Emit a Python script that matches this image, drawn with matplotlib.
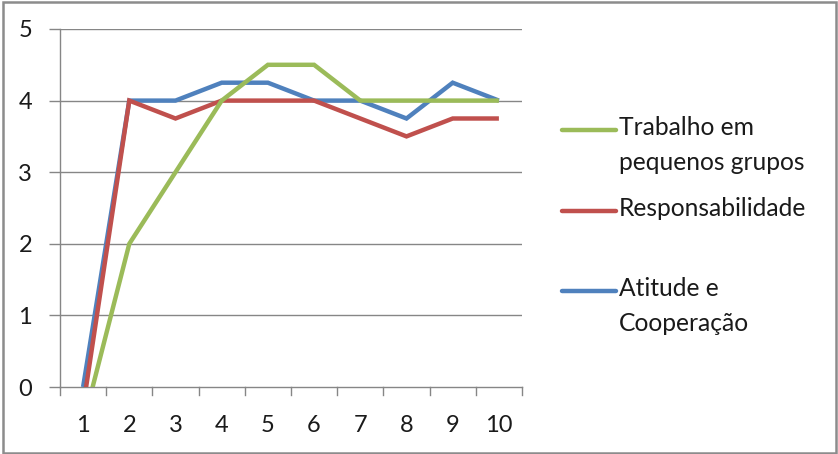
import matplotlib.pyplot as plt
from matplotlib.lines import Line2D
from matplotlib.patches import Rectangle

# data
categories = [1, 2, 3, 4, 5, 6, 7, 8, 9, 10]
atitude = [0, 4, 4, 4.25, 4.25, 4, 4, 3.75, 4.25, 4]
responsabilidade = [-0.28, 4, 3.75, 4, 4, 4, 3.75, 3.5, 3.75, 3.75]
trabalho = [-0.52, 2, 3, 4, 4.5, 4.5, 4, 4, 4, 4]
y_ticks = [0, 1, 2, 3, 4, 5]

series_labels = ["Trabalho em\npequenos grupos", "Responsabilidade", "Atitude e\nCooperação"]
GREEN = "#9BBB59"
RED = "#C0504D"
BLUE = "#4F81BD"
GRID = "#868686"
TXT = "#1a1a1a"

plt.rcParams['font.family'] = ['Lato', 'DejaVu Sans']

W, H = 838, 454
fig = plt.figure(figsize=(W / 100, H / 100), dpi=100)

# plot area in pixels: left 60, right 522, top 29, bottom 387
ax = fig.add_axes([60 / W, 1 - 387 / H, (522 - 60) / W, (387 - 29) / H])

x = list(range(len(categories)))
ax.plot(x, atitude, color=BLUE, lw=3.2, solid_joinstyle='miter', solid_capstyle='butt', zorder=3)
ax.plot(x, responsabilidade, color=RED, lw=3.2, solid_joinstyle='miter', solid_capstyle='butt', zorder=4)
ax.plot(x, trabalho, color=GREEN, lw=3.2, solid_joinstyle='miter', solid_capstyle='butt', zorder=5)

ax.set_xlim(-0.5, len(categories) - 0.5)
ax.set_ylim(0, 5)

ax.set_yticks(y_ticks)
ax.set_yticklabels([str(t) for t in y_ticks], fontsize=17, color=TXT)
ax.set_xticks(x)
ax.set_xticklabels([str(c) for c in categories], fontsize=17, color=TXT)
ax.tick_params(axis='x', length=0, pad=20)
ax.tick_params(axis='y', length=8, color=GRID, pad=12, width=1)

# ticks between categories on the x axis
for b in [i - 0.5 for i in range(len(categories) + 1)]:
    ax.plot([b, b], [0, -0.11], color=GRID, lw=1, clip_on=False, zorder=2)

for t in y_ticks[1:]:
    ax.axhline(t, color=GRID, lw=1, zorder=1)

for s in ['top', 'right']:
    ax.spines[s].set_visible(False)
for s in ['left', 'bottom']:
    ax.spines[s].set_color(GRID)
    ax.spines[s].set_linewidth(1)

# legend drawn by hand so the line sits next to the first text line
leg_items = [(series_labels[0], GREEN, 130), (series_labels[1], RED, 211), (series_labels[2], BLUE, 291)]
for label, col, ypx in leg_items:
    fig.add_artist(Line2D([562 / W, 616 / W], [1 - ypx / H, 1 - ypx / H], color=col, lw=3.2,
                          solid_capstyle='round'))
    fig.text(619 / W, 1 - (ypx - 14) / H, label, fontsize=17.7, va='top', ha='left',
             color=TXT, linespacing=1.62)

fig.add_artist(Rectangle((3 / W, 1 / H), (836 - 3) / W, (452 - 1) / H, transform=fig.transFigure,
                         fill=False, edgecolor="#8C8C8C", lw=1.8))

fig.savefig("out.png", dpi=100)
